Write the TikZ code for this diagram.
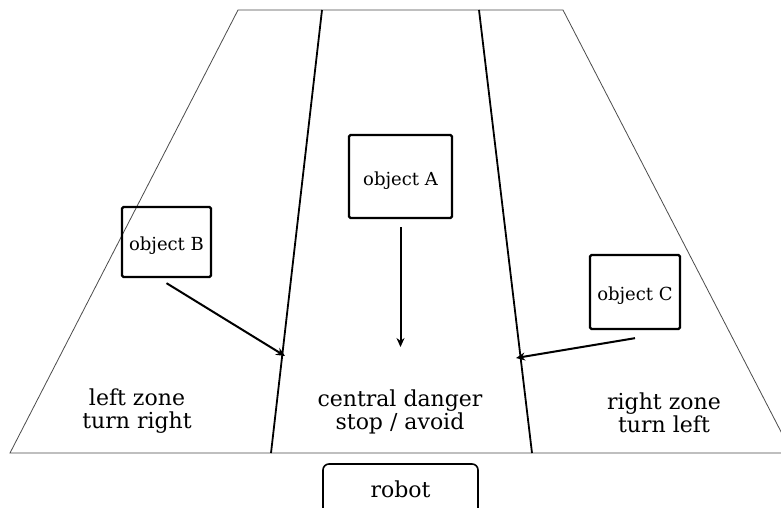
\documentclass[tikz,border=0pt]{standalone}
\usepackage{fontspec}
\setmainfont{DejaVu Serif}
\usetikzlibrary{arrows.meta}
\begin{document}
\begin{tikzpicture}[x=1pt,y=-1pt,
  outline/.style={draw=black!70,line width=0.8pt},
  divider/.style={draw=black,line width=1.8pt},
  objbox/.style={draw=black,line width=2.3pt,rounded corners=1.5pt,inner sep=0pt,text height=17pt,text depth=0pt,font=\fontsize{18}{21}\selectfont},
  zonetext/.style={align=center,font=\fontsize{22}{23}\selectfont,inner sep=0pt},
  pusharrow/.style={draw=black,line width=2pt,-{Stealth[length=9pt,width=8pt]}},
  robotbox/.style={draw=black,line width=1.6pt,rounded corners=6pt,minimum width=155pt,minimum height=50pt,inner sep=0pt,font=\fontsize{22}{23}\selectfont}]
\useasboundingbox (0,0) rectangle (781,507);
\fill[white] (0,0) rectangle (781,507);
% trapezoid
\coordinate (TL) at (238,10);
\coordinate (TR) at (563,10);
\coordinate (BL) at (10,453);
\coordinate (BR) at (792,453);
\draw[outline] (BL) -- (TL) -- (TR) -- (BR) -- cycle;
% dividers
\coordinate (D1t) at (322,10);
\coordinate (D1b) at (271,453);
\coordinate (D2t) at (479,10);
\coordinate (D2b) at (532,453);
\draw[divider] (D1t) -- (D1b);
\draw[divider] (D2t) -- (D2b);
% objects
\node[objbox,minimum width=103pt,minimum height=83pt] (A) at (400.5,176.5) {object A};
\node[objbox,minimum width=89pt,minimum height=70pt] (B) at (166.5,242) {object B};
\node[objbox,minimum width=90pt,minimum height=74pt] (C) at (635,292) {object C};
% arrow targets
\coordinate (tA) at (400.5,347);
\coordinate (tB) at (285,356);
\coordinate (tC) at (516,358);
\draw[pusharrow] ([yshift=-8pt]A.south) -- (tA);
\draw[pusharrow] ([yshift=-5pt]B.south) -- (tB);
\draw[pusharrow] ([yshift=-8pt]C.south) -- (tC);
% zone labels
\node[zonetext] (lz) at (137,411) {left zone\\turn right};
\node[zonetext] (cz) at (400,412) {central danger\\stop / avoid};
\node[zonetext] (rz) at (664,413) {right zone\\turn left};
% robot
\node[robotbox] (robot) at (400.5,489) {robot};
\end{tikzpicture}
\end{document}
